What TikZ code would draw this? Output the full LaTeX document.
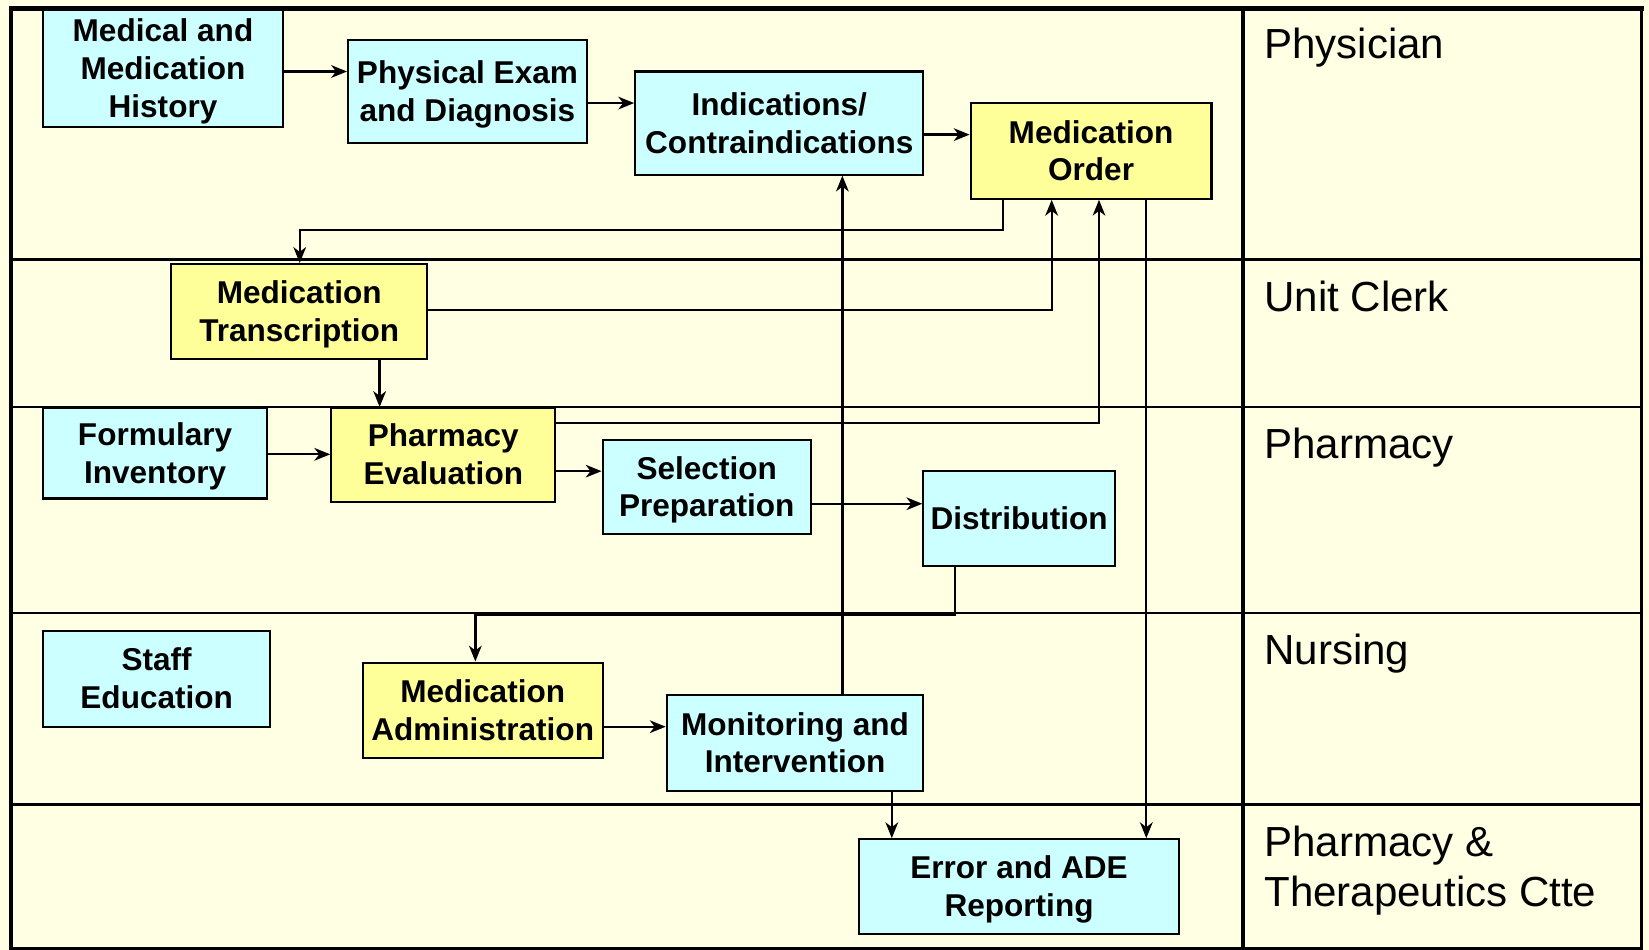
\documentclass[tikz,border=0pt]{standalone}
\usepackage{fontspec}
\setmainfont{Liberation Sans}
\usetikzlibrary{arrows.meta}
\definecolor{paper}{HTML}{FFFFE3}
\definecolor{cyanbox}{HTML}{CCFFFF}
\definecolor{yelbox}{HTML}{FFFF99}
% fixed height of the first line (\tg) and depth of the last line (\bg)
\newcommand\tg{\rule{0pt}{28pt}}
\newcommand\bg{\rule[-7pt]{0pt}{7pt}}
\begin{document}
\begin{tikzpicture}[x=1pt,y=-1pt,
  proc/.style={draw=black, line width=2pt, inner sep=0pt, align=center,
    font=\fontsize{30}{36}\selectfont\bfseries},
  cy/.style={proc, fill=cyanbox},
  ye/.style={proc, fill=yelbox},
  sz/.style 2 args={minimum width=#1pt, minimum height=#2pt},
  flow/.style={draw, line width=2.2pt, -{Stealth[length=15pt,width=12pt,inset=4.5pt]}},
  lane/.style={line width=2.6pt},
  role/.style={anchor=base west, inner sep=0pt, align=left,
    font=\fontsize{40}{48}\selectfont}]

% page and swimlane grid
\useasboundingbox (0,0) rectangle (1568,903);
\fill[paper] (0,0) rectangle (1568,903);
\foreach \yy in {247,387,583,765} \draw[lane] (10,\yy) -- (1562,\yy);
\draw[line width=4pt] (1182,8) -- (1182,903);
\draw[line width=3pt] (1561,8) -- (1561,902) -- (10,902);
\draw[line width=4.5pt] (10.5,903) -- (10.5,8) -- (1563,8);

% role labels
\node[role] (rphys)  at (1202,56)  {Physician};
\node[role] (rclerk) at (1202,296) {Unit Clerk};
\node[role] (rpharm) at (1202,436) {Pharmacy};
\node[role] (rnurse) at (1202,632) {Nursing};
\node[role] (rptc)   at (1202,862) {Pharmacy \&\\Therapeutics Ctte};

% process steps
\node[cy, sz={228}{112}] (hist)  at (155,65)     {\tg Medical and\\Medication\\History\bg};
\node[cy, sz={227}{98}]  (exam)  at (444.5,87)   {\tg Physical Exam\\and Diagnosis\bg};
\node[cy, sz={274}{98}]  (ind)   at (741,117)    {\tg Indications/\\Contraindications\bg};
\node[ye, sz={229}{91}]  (order) at (1037.5,143.5) {\tg Medication\\Order\bg};
\node[ye, sz={243}{90}]  (trans) at (284.5,296)  {\tg Medication\\Transcription\bg};
\node[cy, sz={213}{86}]  (form)  at (147.5,431)  {\tg Formulary\\Inventory\bg};
\node[ye, sz={213}{89}]  (peval) at (421.5,432.5) {\tg Pharmacy\\Evaluation\bg};
\node[cy, sz={198}{90}]  (sel)   at (672,463)    {\tg Selection\\Preparation\bg};
\node[cy, sz={182}{90}]  (dist)  at (969,493)    {\tg Distribution\bg};
\node[cy, sz={216}{91}]  (staff) at (149,645.5)  {\tg Staff\\Education\bg};
\node[ye, sz={228}{91}]  (admin) at (459,675.5)  {\tg Medication\\Administration\bg};
\node[cy, sz={244}{91}]  (mon)   at (756,706.5)  {\tg Monitoring and\\Intervention\bg};
\node[cy, sz={304}{90}]  (err)   at (969,843)    {\tg Error and ADE\\Reporting\bg};

% connectors
\draw[flow] (hist.east |- 0,68) -- (exam.west |- 0,68);
\draw[flow] (exam.east |- 0,98) -- (ind.west |- 0,98);
\draw[flow] (ind.east |- 0,128) -- (order.west |- 0,128);
\draw[flow] (order.south -| 954,0) -- (954,219) -| (trans.north -| 285,0);
\draw[flow] (trans.east |- 0,295) -| (order.south -| 1000,0);
\draw[flow] (trans.south -| 361,0) -- (peval.north -| 361,0);
\draw[flow] (peval.east |- 0,402) -| (order.south -| 1045,0);
\draw[flow] (form.east |- 0,432) -- (peval.west |- 0,432);
\draw[flow] (peval.east |- 0,448) -- (sel.west |- 0,448);
\draw[flow] (sel.east |- 0,479) -- (dist.west |- 0,479);
\draw[flow] (dist.south -| 908,0) -- (908,585) -| (admin.north -| 452,0);
\draw[flow] (admin.east |- 0,691) -- (mon.west |- 0,691);
\draw[flow] (mon.north -| 801,0) -- (ind.south -| 801,0);
\draw[flow] (mon.south -| 848,0) -- (err.north -| 848,0);
\draw[flow] (order.south -| 1090,0) -- (err.north -| 1090,0);
\end{tikzpicture}
\end{document}
